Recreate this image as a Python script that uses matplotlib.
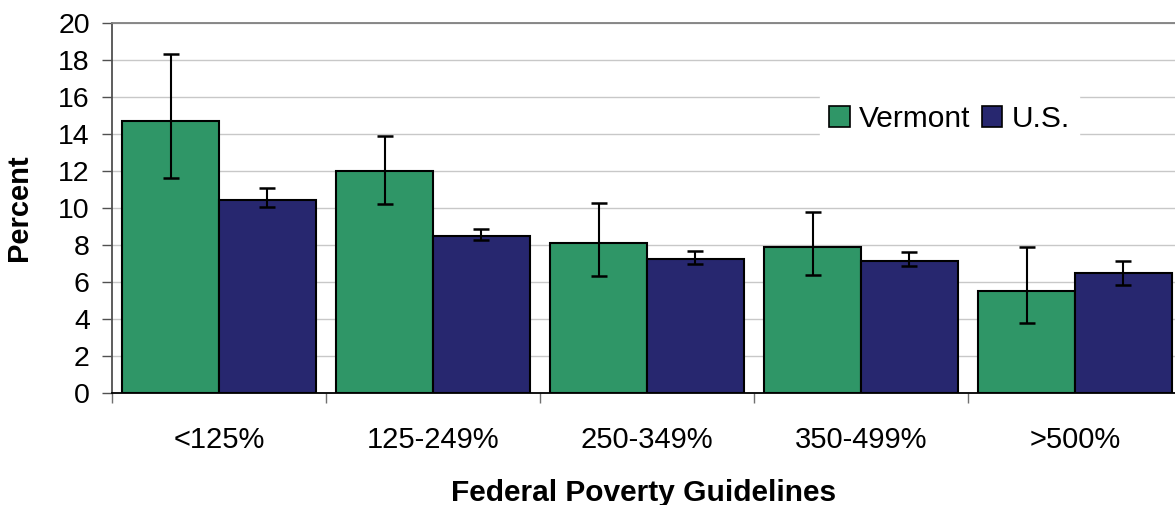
import numpy as np
import matplotlib
matplotlib.use("Agg")
import matplotlib.pyplot as plt

plt.rcParams["font.family"] = ["Liberation Sans", "DejaVu Sans"]

# Data
categories = ["<125%", "125-249%", "250-349%", "350-499%", ">500%"]
vermont = [14.7, 12.0, 8.1, 7.9, 5.5]
vermont_low = [11.6, 10.2, 6.3, 6.4, 3.8]
vermont_high = [18.35, 13.9, 10.25, 9.8, 7.9]
us = [10.45, 8.5, 7.25, 7.15, 6.5]
us_low = [10.05, 8.25, 6.95, 6.85, 5.85]
us_high = [11.1, 8.85, 7.7, 7.6, 7.15]

green = "#2f9667"
navy = "#27276f"

fig = plt.figure(figsize=(11.75, 5.05), dpi=100)
# plot area runs past the right edge of the figure, as in the reference
ax = fig.add_axes([112 / 1175, 112 / 505, 1070 / 1175, 370 / 505])

x = np.arange(len(categories))
w = 0.453

vt = np.array(vermont)
ust = np.array(us)
vt_err = [vt - np.array(vermont_low), np.array(vermont_high) - vt]
us_err = [ust - np.array(us_low), np.array(us_high) - ust]

ax.bar(x - w / 2, vt, w, color=green, edgecolor="black", linewidth=1.5,
       label="Vermont", zorder=2)
ax.bar(x + w / 2, ust, w, color=navy, edgecolor="black", linewidth=1.5,
       label="U.S.", zorder=2)
ax.errorbar(x - w / 2, vt, yerr=vt_err, fmt="none", ecolor="black",
            elinewidth=1.5, capsize=5.5, capthick=1.8, zorder=3)
ax.errorbar(x + w / 2, ust, yerr=us_err, fmt="none", ecolor="black",
            elinewidth=1.5, capsize=5.5, capthick=1.8, zorder=3)

ax.set_xlim(-0.5, len(categories) - 0.5)
ax.set_ylim(0, 20)
ax.set_yticks(np.arange(0, 21, 2))
ax.yaxis.grid(True, color="#c8c8c8", linewidth=1.0, zorder=0)
ax.set_axisbelow(True)

ax.set_xticks(x)
ax.set_xticklabels(categories, fontsize=21)
ax.tick_params(axis="x", which="major", length=0, pad=24)
ax.set_xticks(np.arange(-0.5, len(categories)), minor=True)
ax.tick_params(axis="x", which="minor", length=7, color="#707070", width=1)
ax.tick_params(axis="y", length=7, color="#505050", width=1, pad=9,
               labelsize=20.5)

ax.spines["right"].set_visible(False)
ax.spines["top"].set_color("#808080")
ax.spines["left"].set_color("#505050")
ax.spines["bottom"].set_color("black")
for s in ax.spines.values():
    s.set_linewidth(1.3)

ax.set_ylabel("Percent", fontsize=21, fontweight="bold")
ax.yaxis.set_label_coords(-0.0738, 0.5)
ax.set_xlabel("Federal Poverty Guidelines", fontsize=21.5, fontweight="bold")
ax.xaxis.set_label_coords(0.497, -0.232)

leg = ax.legend(loc="upper left", bbox_to_anchor=(820 / 1175, 1 - 96 / 505),
                bbox_transform=fig.transFigure, ncol=2, fontsize=21.5,
                frameon=True, fancybox=False, framealpha=1, edgecolor="white",
                handlelength=0.69, handleheight=0.69, handletextpad=0.31,
                columnspacing=0.38, borderpad=0.3, borderaxespad=0)
for p in leg.get_patches():
    p.set_linewidth(1.2)

fig.savefig("out.png", dpi=100)
